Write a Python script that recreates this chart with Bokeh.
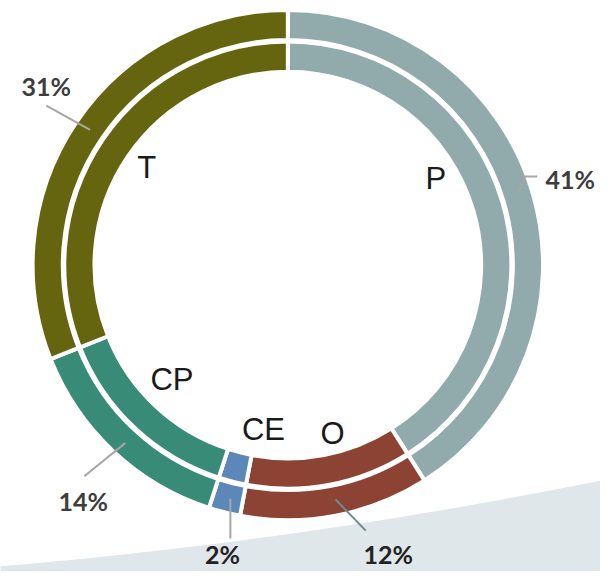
import numpy as np
from bokeh.plotting import figure
from bokeh.models import Range1d, ColumnDataSource
from bokeh.core.properties import value
from bokeh.embed import file_html
from bokeh.resources import INLINE

# ---- data ----
categories = ["P", "O", "CE", "CP", "T"]
shares = [41, 12, 2, 14, 31]
pct_labels = ["41%", "12%", "2%", "14%", "31%"]
colors = ["#91aaac", "#8d4333", "#5b88b8", "#388b77", "#66650f"]

# ---- layout (reference pixel coordinates) ----
W, H = 616, 587
cx, cy = 295, 272
name_pos = [(447, 183), (341, 445), (270, 441), (176, 390), (150, 172)]
pct_pos = [(585, 183), (398, 569), (228, 569), (85, 515), (47, 88)]
pct_colors = ["#3d3d3d", "#222222", "#222222", "#3d3d3d", "#3d3d3d"]
leaders = [
    [(531, 198), (538, 181), (551, 181)],
    [(344, 513), (375, 545)],
    [(236, 512), (236, 553)],
    [(128, 455), (86, 489)],
    [(92, 133), (47, 108)],
]
leader_colors = ["#a6a6a6", "#6f8c90", "#a6a6a6", "#a6a6a6", "#a6a6a6"]
bg_curve = [(0, 582), (250, 553), (416, 532), (616, 493)]

def Y(py):
    return H - py

p = figure(width=600, height=571, output_backend="svg", toolbar_location=None,
           x_range=Range1d(0, W), y_range=Range1d(0, H), min_border=0)
p.axis.visible = False
p.grid.visible = False
p.outline_line_color = None
p.background_fill_color = "white"

# background decoration
bx = np.array([c[0] for c in bg_curve], dtype=float)
by = np.array([c[1] for c in bg_curve], dtype=float)
coef = np.polyfit(bx, by, 2)
xs = np.linspace(-10, 630, 80)
ys = np.polyval(coef, xs)
px = list(xs) + [630, -10]
py = [Y(v) for v in ys] + [Y(600), Y(600)]
p.patch(px, py, fill_color="#dfe7ea", line_color=None)

# wedges
total = float(sum(shares))
cum = np.concatenate([[0], np.cumsum(shares)]) / total
start = [np.pi / 2 - 2 * np.pi * cum[i] for i in range(len(shares))]
end = [np.pi / 2 - 2 * np.pi * cum[i + 1] for i in range(len(shares))]
src = ColumnDataSource(dict(start=start, end=end, color=colors))
for r_in, r_out in [(231.0, 262.0), (198.5, 229.5)]:
    p.annular_wedge(x=cx, y=Y(cy), inner_radius=r_in, outer_radius=r_out,
                    start_angle="start", end_angle="end", direction="clock",
                    fill_color="color", line_color="white", line_width=4, source=src)

# leader lines
for pts, lc in zip(leaders, leader_colors):
    p.line([q[0] for q in pts], [Y(q[1]) for q in pts], line_color=lc, line_width=2)

# category names
p.text(x=[q[0] for q in name_pos], y=[Y(q[1]) for q in name_pos], text=categories,
       text_align="center", text_baseline="middle", text_font=value("Liberation Sans"),
       text_font_size="31px", text_color="#1a1a1a")

# percent labels
psrc = ColumnDataSource(dict(x=[q[0] for q in pct_pos], y=[Y(q[1]) for q in pct_pos],
                             text=pct_labels, color=pct_colors))
p.text(x="x", y="y", text="text", source=psrc,
       text_align="center", text_baseline="middle", text_font=value("Lato"),
       text_font_style="bold", text_font_size="25px", text_color="color")

open("out.html", "w").write(file_html(p, INLINE))
